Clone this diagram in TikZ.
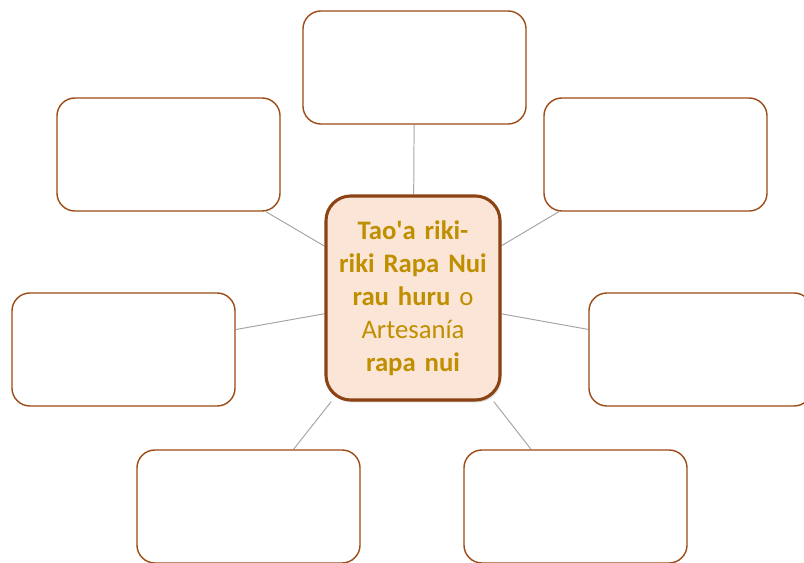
\documentclass[tikz,border=0pt]{standalone}
\usepackage{fontspec}
\setmainfont{Carlito}
\usepackage{xcolor}
\usetikzlibrary{shadows, backgrounds}
\definecolor{boxbrown}{HTML}{9C4A16}
\definecolor{hubfill}{HTML}{FBE5D6}
\definecolor{hubtext}{HTML}{BF8F00}
\definecolor{linkgray}{HTML}{A6A6A6}

\begin{document}
\begin{tikzpicture}[x=0.025cm, y=-0.025cm,
		leaf/.style={draw=boxbrown, line width=1pt, fill=white,
			rounded corners=0.45cm, minimum width=5.575cm, minimum height=2.825cm},
		hub/.style={draw=boxbrown!90!black, line width=2.2pt, fill=hubfill,
			rounded corners=0.62cm, minimum width=4.35cm, minimum height=5.1cm,
			text width=4.1cm, align=center, text=hubtext, font=\fontsize{19}{23.5}\selectfont,
			drop shadow={opacity=0.3, shadow xshift=0.4mm, shadow yshift=-0.6mm}},
		link/.style={draw=linkgray, line width=0.7pt}]
	\useasboundingbox (0,0) rectangle (804,563);

	\node[hub] (hub) at (413, 298) {\textbf{Tao\textquotesingle a riki-}\\\textbf{riki Rapa Nui}\\\textbf{rau huru} o\\Artesanía\\\textbf{rapa nui}};

	\node[leaf] (top) at (414.5, 67.5) {};
	\node[leaf] (topleft) at (168.5, 154.5) {};
	\node[leaf] (topright) at (655.5, 154.5) {};
	\node[leaf] (left) at (123.5, 349.5) {};
	\node[leaf] (right) at (700.5, 349.5) {};
	\node[leaf] (botleft) at (248.5, 506.5) {};
	\node[leaf] (botright) at (575.5, 506.5) {};

	\begin{scope}[on background layer]
		\foreach \b in {top, topleft, topright, left, right, botleft, botright} {
				\draw[link] (hub) -- (\b);
			}
	\end{scope}
\end{tikzpicture}
\end{document}
